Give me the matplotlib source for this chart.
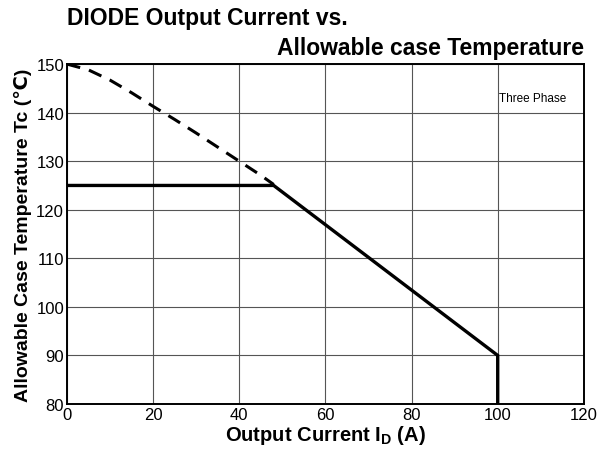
import matplotlib
matplotlib.use("Agg")
import matplotlib.pyplot as plt

plt.rcParams['font.family'] = ['Liberation Sans', 'DejaVu Sans']
plt.rcParams['mathtext.fontset'] = 'custom'
plt.rcParams['mathtext.bf'] = 'Liberation Sans:bold'
plt.rcParams['mathtext.default'] = 'bf'

# derating curve (dashed, theoretical) and allowable limit (solid)
dash_x = [0, 5, 10, 15, 20, 25, 30, 35, 40, 45, 48]
dash_y = [150, 148.8, 146.7, 144.1, 141.3, 138.6, 135.8, 132.9, 130.0, 127.1, 125.2]
solid_x = [0, 48, 100, 100]
solid_y = [125, 125, 90, 80]

x_ticks = [0, 20, 40, 60, 80, 100, 120]
y_ticks = [80, 90, 100, 110, 120, 130, 140, 150]

fig = plt.figure(figsize=(5.97, 4.60), dpi=100)
ax = fig.add_axes([0.112, 0.1196, 0.866, 0.739])

ax.plot(dash_x, dash_y, color='black', lw=2.2, ls=(0, (4.5, 3)))
ax.plot(solid_x, solid_y, color='black', lw=2.4, solid_joinstyle='miter')

ax.set_xlim(0, 120)
ax.set_ylim(80, 150)
ax.set_xticks(x_ticks)
ax.set_yticks(y_ticks)
ax.grid(True, color='#555555', lw=0.8)
ax.set_axisbelow(True)
for s in ax.spines.values():
    s.set_linewidth(1.4)
ax.tick_params(length=0, labelsize=12, pad=2)

ax.text(108, 143, 'Three Phase', fontsize=8.5, ha='center', va='center')

ax.set_xlabel('Output Current I$_{D}$ (A)', fontsize=14.5, fontweight='bold', labelpad=1)
ax.set_ylabel('Allowable Case Temperature Tc (℃)', fontsize=14, fontweight='bold', labelpad=3)

fig.text(0.112, 0.985, 'DIODE Output Current vs.', fontsize=16.5, fontweight='bold',
         ha='left', va='top')
fig.text(0.978, 0.92, 'Allowable case Temperature', fontsize=16.5, fontweight='bold',
         ha='right', va='top')

fig.savefig('out.png', dpi=100)
